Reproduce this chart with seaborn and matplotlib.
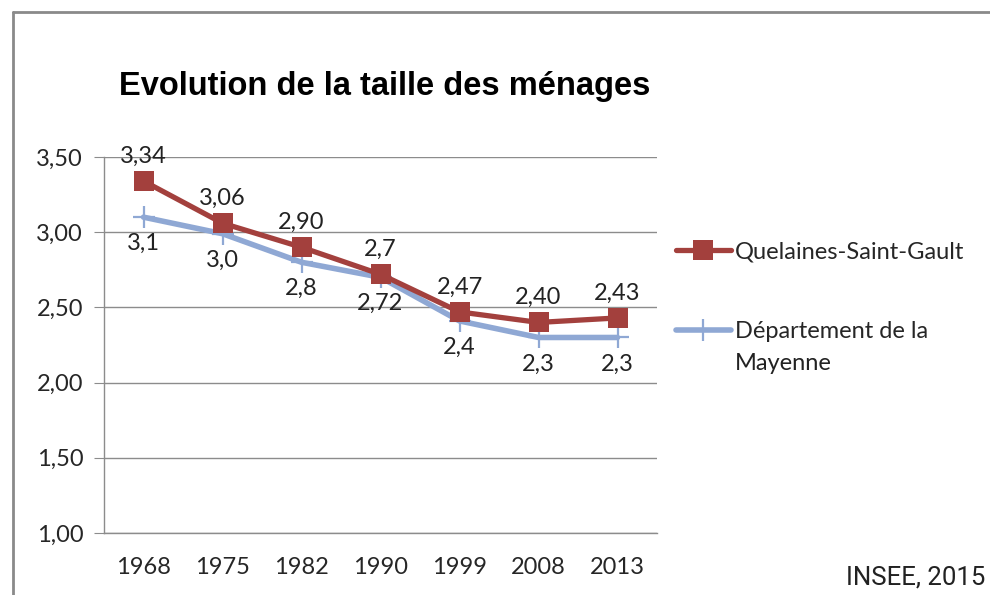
import pandas as pd
import numpy as np
import matplotlib.pyplot as plt
from matplotlib.lines import Line2D
import seaborn as sns

# data
years = ['1968', '1975', '1982', '1990', '1999', '2008', '2013']
quelaines = [3.34, 3.06, 2.90, 2.72, 2.47, 2.40, 2.43]
mayenne = [3.10, 2.99, 2.80, 2.70, 2.41, 2.30, 2.30]
quelaines_labels = ['3,34', '3,06', '2,90', '2,7', '2,47', '2,40', '2,43']
mayenne_labels = ['3,1', '3,0', '2,8', '2,72', '2,4', '2,3', '2,3']
yticks = [1.0, 1.5, 2.0, 2.5, 3.0, 3.5]

red = '#A3403D'
blue = '#8FA8D4'
grey = '#8C8C8C'

sns.set_style('white')
plt.rcParams['font.family'] = ['Lato', 'DejaVu Sans']

df = pd.DataFrame({'annee': years * 2,
                   'valeur': quelaines + mayenne,
                   'serie': ['Quelaines-Saint-Gault'] * 7 + ['Département de la Mayenne'] * 7})
df['pos'] = list(range(7)) * 2

fig = plt.figure(figsize=(9.9, 5.95), dpi=100)
ax = fig.add_axes([104 / 990, 1 - 533 / 595, (657 - 104) / 990, (533 - 157) / 595])

# outer frame of the chart area (only left and top are visible)
fx, fy = 13 / 990, 1 - 12 / 595
fig.add_artist(Line2D([fx, fx], [0, fy], transform=fig.transFigure, color='#8a8a8a', linewidth=2))
fig.add_artist(Line2D([fx, 1], [fy, fy], transform=fig.transFigure, color='#8a8a8a', linewidth=2))

sns.lineplot(data=df[df['serie'] == 'Département de la Mayenne'], x='pos', y='valeur',
             color=blue, linewidth=4, marker='+', markersize=16, markeredgewidth=1.6,
             markeredgecolor=blue, ax=ax, legend=False, zorder=3)
sns.lineplot(data=df[df['serie'] == 'Quelaines-Saint-Gault'], x='pos', y='valeur',
             color=red, linewidth=3.8, marker='s', markersize=14, markeredgewidth=0,
             ax=ax, legend=False, zorder=4)

for i in range(7):
    ax.annotate(quelaines_labels[i], (i, quelaines[i]), xytext=(0, 18), textcoords='offset points',
                ha='center', va='center', fontsize=17, color='#222222', zorder=5)
    ax.annotate(mayenne_labels[i], (i, mayenne[i]), xytext=(0, -19), textcoords='offset points',
                ha='center', va='center', fontsize=17, color='#222222', zorder=5)

ax.set_xlim(-0.5, 6.5)
ax.set_ylim(1.0, 3.5)
ax.set_yticks(yticks)
ax.set_yticklabels([f'{v:.2f}'.replace('.', ',') for v in yticks], fontsize=17)
ax.set_xticks(range(7))
ax.set_xticklabels(years, fontsize=17)
ax.set_xticks(np.arange(-0.5, 7, 1), minor=True)
ax.tick_params(axis='x', which='major', length=0, pad=17)
ax.tick_params(axis='x', which='minor', length=7, color=grey, direction='out')
ax.tick_params(axis='y', length=7, color=grey, direction='out', pad=8, left=True)
ax.grid(axis='y', color=grey, linewidth=1)
ax.set_axisbelow(True)
ax.set_xlabel('')
ax.set_ylabel('')
for s in ['top', 'right']:
    ax.spines[s].set_visible(False)
for s in ['left', 'bottom']:
    ax.spines[s].set_color(grey)
    ax.spines[s].set_linewidth(1)

fig.text(385 / 990, 1 - 87 / 595, 'Evolution de la taille des ménages', ha='center', va='center',
         fontsize=23.5, fontweight='bold', family='Liberation Sans', color='black')

handles = [Line2D([], [], color=red, linewidth=3.8, marker='s', markersize=14, markeredgewidth=0),
           Line2D([], [], color=blue, linewidth=4, marker='+', markersize=16, markeredgewidth=1.6)]
leg = fig.legend(handles, ['Quelaines-Saint-Gault', 'Département de la'],
                 loc='upper left', bbox_to_anchor=(655 / 990, 1 - 220 / 595), frameon=False,
                 fontsize=17, handlelength=2.3, handletextpad=0.2, labelspacing=2.5)

# second line of the wrapped legend label, aligned under the first one
fig.canvas.draw()
bb = leg.get_texts()[1].get_window_extent().transformed(fig.transFigure.inverted())
fig.text(bb.x0, bb.y0 - 32 / 595, 'Mayenne', ha='left', va='bottom', fontsize=17, color='#222222')

fig.text(985 / 990, 1 - 577 / 595, 'INSEE, 2015', ha='right', va='center', fontsize=18.5,
         family='Roboto', color='#222222')

fig.savefig('out.png', dpi=100)
